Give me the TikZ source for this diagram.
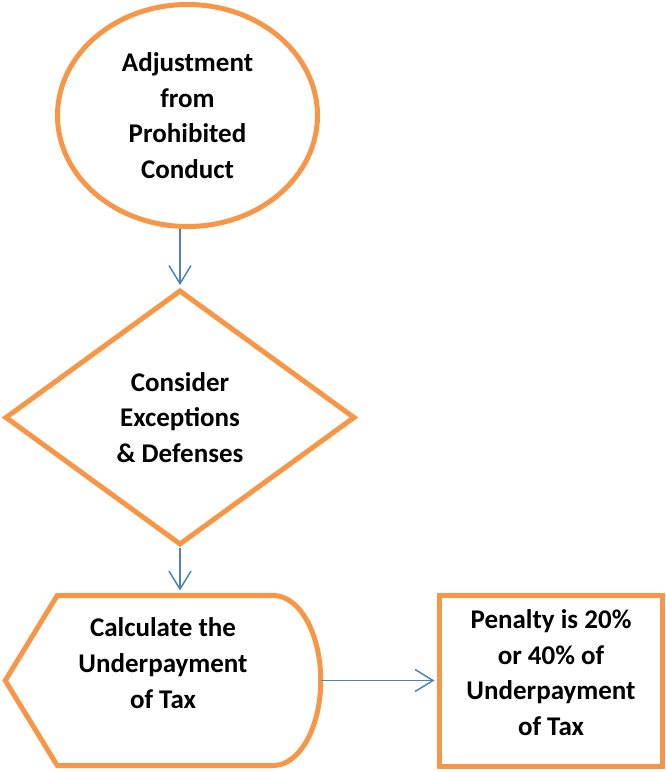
\documentclass[tikz,border=0pt]{standalone}
\usepackage{fontspec}
\setmainfont{Carlito}
\usepackage{tikz}
\usetikzlibrary{positioning,shapes,arrows.meta}

\definecolor{flowOrange}{HTML}{F79646}
\definecolor{flowBlue}{HTML}{4F81BD}

\tikzset{
	flowline/.style={draw=flowOrange, line width=2.5pt},
	flowshape/.style={flowline, align=center, font=\bfseries\fontsize{13.5}{17.8}\selectfont, inner sep=0pt},
	flowarrow/.style={draw=flowBlue, line width=0.75pt, shorten >=1.25pt, -{Straight Barb[length=9pt,width=11pt,line width=0.75pt]}}
}

\begin{document}
\begin{tikzpicture}[x=0.5pt, y=-0.5pt]
	\useasboundingbox (0,0) rectangle (665,772);

	\node[flowshape, ellipse, minimum width=130pt, minimum height=111pt] (adj) at (187.5,115.5) {Adjustment\\from\\Prohibited\\Conduct};

	\node[flowshape, diamond, below of=adj, node distance=151pt, xshift=-3.75pt, minimum width=175pt, minimum height=127.5pt] (except) {Consider\\Exceptions\\\& Defenses};

	% display shape: text node, outline drawn round it
	\node[flowshape, draw=none, rectangle, outer sep=0pt, below of=except, node distance=131.5pt, xshift=-8.5pt, minimum width=157.75pt, minimum height=85pt, text height=50pt, text depth=22.5pt] (calc) {Calculate the\\Underpayment\\of Tax};
	\draw[flowline] ([xshift=26pt]calc.north west) -- ([xshift=-23.75pt]calc.north east) arc[start angle=90, end angle=-90, x radius=23.75pt, y radius=42.5pt] -- ([xshift=26pt]calc.south west) -- (calc.west) -- cycle;

	\node[flowshape, rectangle, right of=calc, node distance=194pt, minimum width=111.5pt, minimum height=85.5pt, text height=68pt, text depth=13pt] (penalty) {Penalty is 20\%\\or 40\% of\\Underpayment\\of Tax};

	\path[flowarrow] (except.north |- adj.south) -- (except.north);
	\path[flowarrow] (except.south) -- ([yshift=1.25pt]except.south |- calc.north);
	\path[flowarrow] (calc.east) -- (penalty.west);
\end{tikzpicture}
\end{document}
